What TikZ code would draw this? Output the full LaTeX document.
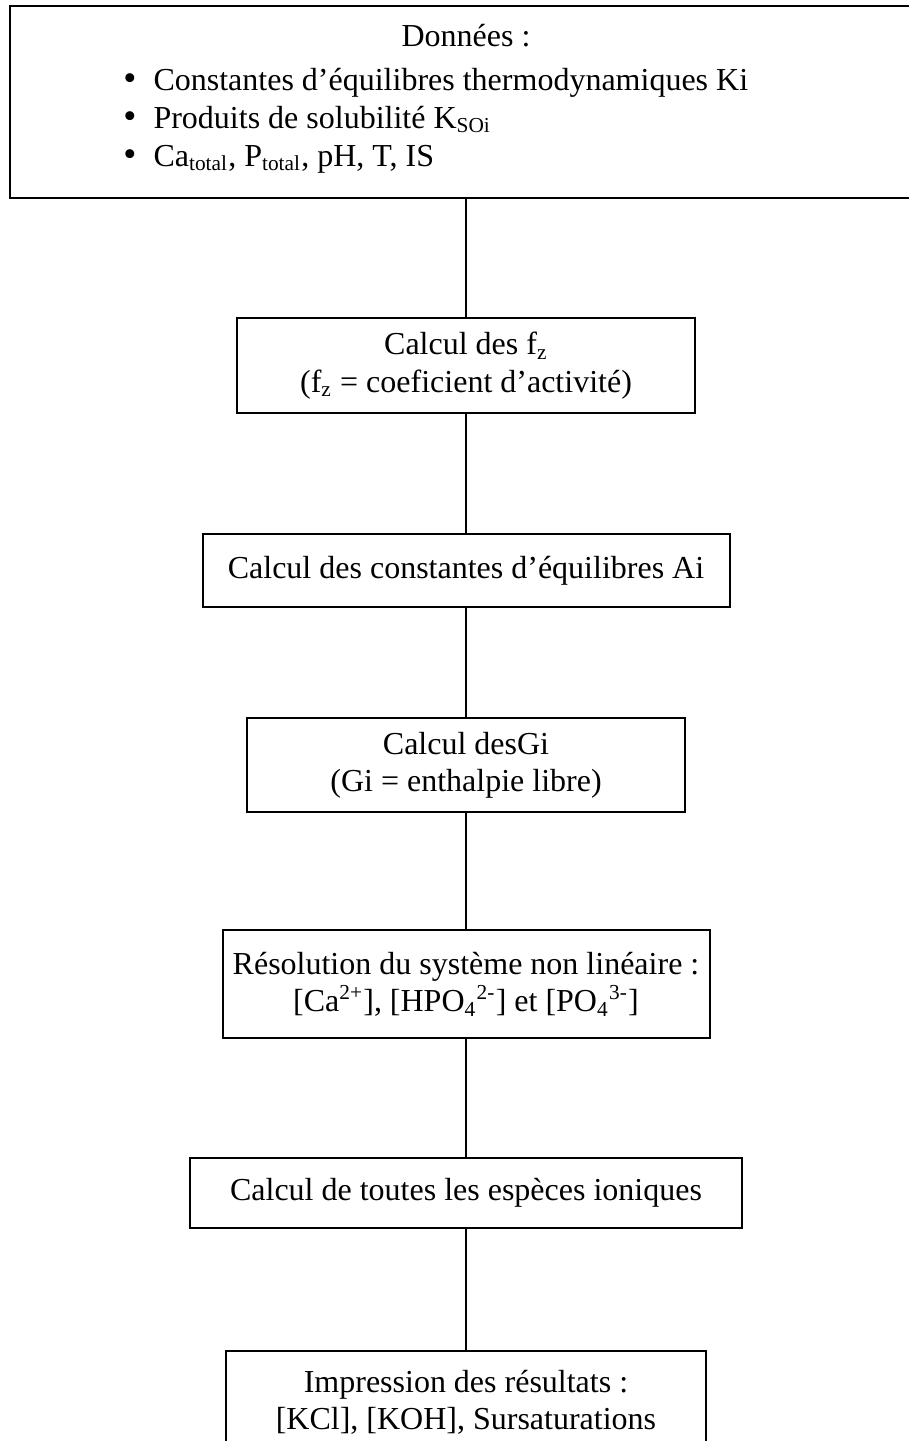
\documentclass[tikz,border=0pt]{standalone}
\usepackage{fontspec}
\setmainfont{Liberation Serif}
\usetikzlibrary{positioning}
\newcommand{\pxl}{0.375pt}
\tikzset{
  flowbox/.style={draw, line width=0.75pt, align=center, inner sep=0pt},
  link/.style={line width=0.75pt}
}
\begin{document}
\begin{tikzpicture}[x=\pxl, y=-\pxl, every node/.style={font=\fontsize{12}{14}\selectfont}]
\useasboundingbox (0,0) rectangle (909,1441);
\clip (0,0) rectangle (909,1441);
% data box (runs off the right edge)
\node[flowbox, minimum width=912*\pxl, minimum height=192*\pxl] (donnees) at (466,102) {};
\node[anchor=base] (titre) at (466,46) {Données :};
\foreach \n/\yb/\txt in {1/90/{Constantes d’équilibres thermodynamiques Ki},
    2/128/{Produits de solubilité K\textsubscript{SOi}},
    3/166/{Ca\textsubscript{total}, P\textsubscript{total}, pH, T, IS}} {
  \node[anchor=base, inner sep=0pt] (puce\n) at (130,\yb) {\fontsize{14}{14}\selectfont\textbullet};
  \node[anchor=base west, inner sep=0pt] (item\n) at (153,\yb) {\txt};
}
% calculation steps
\node[flowbox, minimum width=458*\pxl, minimum height=95*\pxl] (fz) at (466,365.5)
  {Calcul des f\textsubscript{z}\\(f\textsubscript{z} = coeficient d’activité)};
\node[flowbox, minimum width=527*\pxl, minimum height=73*\pxl] (constantes) at (466,570.5)
  {Calcul des constantes d’équilibres Ai};
\node[flowbox, minimum width=438*\pxl, minimum height=94*\pxl] (gi) at (466,765)
  {Calcul desGi\\(Gi = enthalpie libre)};
\node[flowbox, minimum width=487*\pxl, minimum height=108*\pxl] (resolution) at (466,984)
  {Résolution du système non linéaire :\\{}[Ca\textsuperscript{2+}], [HPO\textsubscript{4}\textsuperscript{2-}] et [PO\textsubscript{4}\textsuperscript{3-}]};
\node[flowbox, minimum width=552*\pxl, minimum height=70*\pxl] (especes) at (466,1193)
  {Calcul de toutes les espèces ioniques};
% last box (runs off the bottom edge)
\node[flowbox, minimum width=480*\pxl, minimum height=102*\pxl] (impression) at (466,1402)
  {Impression des résultats :\\{}[KCl], [KOH], Sursaturations};
% links
\foreach \a/\b in {donnees/fz, fz/constantes, constantes/gi, gi/resolution,
    resolution/especes, especes/impression}
  \draw[link] (\a) -- (\b);
\end{tikzpicture}
\end{document}
